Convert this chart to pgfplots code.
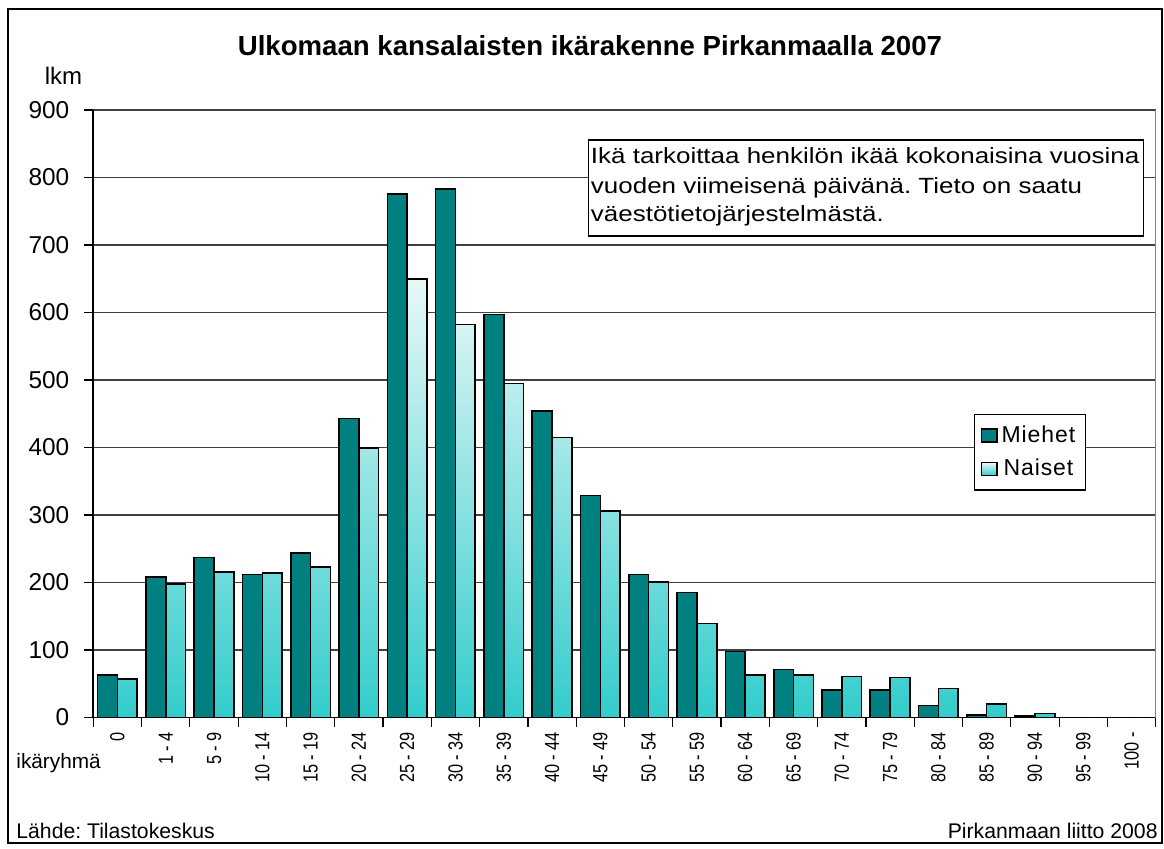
\documentclass[border=0pt]{standalone}
\usepackage{fontspec}
\setmainfont{Liberation Sans}
\usepackage{pgfplots}
\usepackage{pgfplotstable}
\pgfplotsset{compat=1.18}
\definecolor{mies}{HTML}{008080}
\definecolor{naisTop}{HTML}{E8F8F8}
\definecolor{naisBot}{HTML}{33CCCC}
\definecolor{gridc}{HTML}{404040}
\frenchspacing

\pgfplotstableread{
x M N
0 63 57
1 208 198
2 237 216
3 212 214
4 244 223
5 443 399
6 776 650
7 783 582
8 597 495
9 454 415
10 329 306
11 212 201
12 185 139
13 98 63
14 71 63
15 41 61
16 41 59
17 18 43
18 4 20
19 2 6
20 0 0
21 0 0
}\data

\begin{document}
\begin{tikzpicture}
\useasboundingbox (-46.65pt,-65.25pt) rectangle (535.35pt,358.75pt);
\fill[white] (-46.65pt,-65.25pt) rectangle (535.35pt,358.75pt);
\draw[black, line width=0.8pt] (-42.65pt,-62.75pt) rectangle (534.35pt,354.25pt);
\begin{axis}[
  at={(0pt,0pt)}, anchor=south west,
  width=531.2pt, height=303.75pt, scale only axis,
  xmin=-0.5, xmax=21.5, ymin=0, ymax=900,
  ytick={0,100,...,900},
  yticklabels={0,100,200,300,400,500,600,700,800,900},
  xtick={-0.5,0.5,...,21.5},
  x tick label as interval,
  xticklabels={0,1 - 4,5 - 9,10 - 14,15 - 19,20 - 24,25 - 29,30 - 34,35 - 39,40 - 44,45 - 49,50 - 54,55 - 59,60 - 64,65 - 69,70 - 74,75 - 79,80 - 84,85 - 89,90 - 94,95 - 99,100 -},
  ymajorgrids, grid style={gridc, line width=0.6pt},
  axis x line*=bottom, axis y line*=left,
  axis line style={black, line width=0.8pt},
  tick align=outside, major tick length=4.5pt,
  tick style={black, line width=0.6pt},
  yticklabel style={font=\fontsize{12.2}{14}\selectfont, anchor=east, xshift=-4pt},
  xticklabel style={font=\fontsize{10.2}{11}\selectfont, rotate=90, xscale=0.8, anchor=east},
  legend style={at={(0.829,0.4996)}, anchor=north west, draw=black, line width=0.6pt,
    font=\fontsize{11.5}{13}\selectfont\addfontfeature{LetterSpace=4}, row sep=3pt,
    inner xsep=3pt, inner ysep=3.5pt, nodes={xshift=2pt}},
  legend image code/.code={\draw[#1, line width=0.7pt] (0pt,-3.2pt) rectangle (7.8pt,3.2pt);},
  clip=false,
]
\addplot[ybar, bar width=0.41, bar shift=-0.205, fill=mies, draw=black, line width=0.8pt]
  table[x=x,y=M]{\data};
\addlegendentry{Miehet}
\addplot[ybar, bar width=0.41, bar shift=0.205, draw=black, line width=0.8pt,
  top color=naisTop, bottom color=naisBot]
  table[x=x,y=N]{\data};
\addlegendentry{Naiset}
\draw[gray, line width=0.6pt] (rel axis cs:1,0) -- (rel axis cs:1,1);
\end{axis}
% text box
\draw[black, line width=0.8pt, fill=white] (247.5pt,288.75pt) rectangle (525pt,240.75pt);
\node[anchor=base west, inner sep=0pt, xscale=1.18, font=\fontsize{11}{13}\selectfont] at (248.6pt,277.1pt) {Ikä tarkoittaa henkilön ikää kokonaisina vuosina};
\node[anchor=base west, inner sep=0pt, xscale=1.18, font=\fontsize{11}{13}\selectfont] at (248.6pt,262.1pt) {vuoden viimeisenä päivänä. Tieto on saatu};
\node[anchor=base west, inner sep=0pt, xscale=1.18, font=\fontsize{11}{13}\selectfont] at (248.6pt,247.9pt) {väestötietojärjestelmästä.};
% titles and labels
\node[anchor=base, inner sep=0pt, font=\bfseries\fontsize{13.8}{16}\selectfont] at (248.35pt,330.75pt) {Ulkomaan kansalaisten ikärakenne Pirkanmaalla 2007};
\node[anchor=base, inner sep=0pt, font=\fontsize{12}{14}\selectfont] at (-14.9pt,316.25pt) {lkm};
\node[anchor=base west, inner sep=0pt, font=\fontsize{10.4}{12}\selectfont] at (-38.65pt,-25.4pt) {ikäryhmä};
\node[anchor=base west, inner sep=0pt, font=\fontsize{10.6}{12}\selectfont] at (-38.65pt,-60.6pt) {Lähde: Tilastokeskus};
\node[anchor=base east, inner sep=0pt, font=\fontsize{10.6}{12}\selectfont] at (532.35pt,-60.6pt) {Pirkanmaan liitto 2008};
\end{tikzpicture}
\end{document}
